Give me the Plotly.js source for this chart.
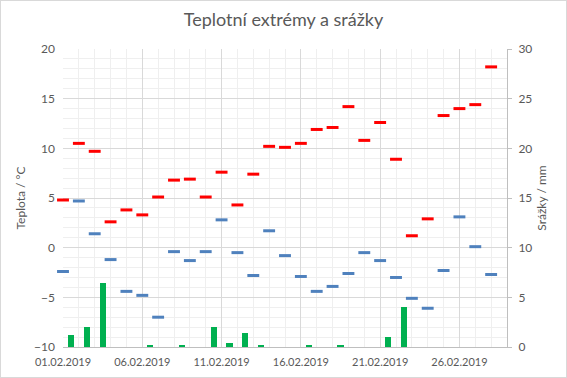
<!DOCTYPE html>
<html>
<head>
<meta charset="utf-8">
<script src="https://cdn.plot.ly/plotly-3.0.1.min.js"></script>
<style>
  html, body { margin: 0; padding: 0; background: #fff; }
  #wrap { position: relative; width: 567px; height: 378px; }
  #chart { width: 567px; height: 378px; }
  #frame { position: absolute; left: 0; top: 0; width: 567px; height: 378px; box-sizing: border-box; border: 1px solid #d9d9d9; pointer-events: none; }
</style>
</head>
<body>
<div id="wrap"><div id="chart"></div><div id="frame"></div></div>
<script>
const dates = ['2019-02-01','2019-02-02','2019-02-03','2019-02-04','2019-02-05','2019-02-06','2019-02-07',
  '2019-02-08','2019-02-09','2019-02-10','2019-02-11','2019-02-12','2019-02-13','2019-02-14',
  '2019-02-15','2019-02-16','2019-02-17','2019-02-18','2019-02-19','2019-02-20','2019-02-21',
  '2019-02-22','2019-02-23','2019-02-24','2019-02-25','2019-02-26','2019-02-27','2019-02-28'];
const tMax = [4.8,10.5,9.7,2.6,3.8,3.3,5.1,6.8,6.9,5.1,7.6,4.3,7.4,10.2,10.1,10.5,11.9,12.1,14.2,10.8,12.6,8.9,1.2,2.9,13.3,14.0,14.4,18.2];
const tMin = [-2.4,4.7,1.4,-1.2,-4.4,-4.8,-7.0,-0.4,-1.3,-0.4,2.8,-0.5,-2.8,1.7,-0.8,-2.9,-4.4,-3.9,-2.6,-0.5,-1.3,-3.0,-5.1,-6.1,-2.3,3.1,0.1,-2.7];
const precip = [1.2,2.0,6.4,0,0,0.2,0,0.2,0,2.0,0.4,1.4,0.2,0,0,0.2,0,0.2,0,0,1.0,4.0,0,0,0,0,0,0];

const titleText = 'Teplotní extrémy a srážky';
const yTitle = 'Teplota / °C';
const y2Title = 'Srážky / mm';

const DAY = 86400000;
const txt = '#595959';
const font = 'Lato, "Open Sans", sans-serif';

const traces = [
  {
    type: 'bar', x: dates, y: precip, yaxis: 'y2',
    xperiod: DAY, xperiodalignment: 'middle',
    width: 0.38 * DAY,
    marker: { color: '#00b050' },
    hoverinfo: 'x+y'
  },
  {
    type: 'scatter', mode: 'markers', x: dates, y: tMax, cliponaxis: false,
    marker: { symbol: 'line-ew', size: 8.5, color: '#ff0000', line: { color: '#ff0000', width: 3 } }
  },
  {
    type: 'scatter', mode: 'markers', x: dates, y: tMin, cliponaxis: false,
    marker: { symbol: 'line-ew', size: 8.5, color: '#4f81bd', line: { color: '#4f81bd', width: 3 } }
  }
];

const layout = {
  width: 567, height: 378,
  margin: { l: 63, r: 60, t: 49, b: 31, pad: 0 },
  paper_bgcolor: '#ffffff', plot_bgcolor: '#ffffff',
  showlegend: false,
  font: { family: font, color: txt, size: 11 },
  title: { text: titleText, font: { family: font, size: 18, color: txt }, x: 0.5, xanchor: 'center', y: 1 - 20/378, yref: 'container', yanchor: 'middle' },
  xaxis: {
    type: 'date',
    range: ['2019-02-01', '2019-03-01'],
    tick0: '2019-02-01', dtick: 5 * DAY, tickformat: '%d.%m.%Y',
    showgrid: true, gridcolor: '#d9d9d9', gridwidth: 1,
    minor: { dtick: DAY, showgrid: true, gridcolor: '#efefef', gridwidth: 1 },
    showline: true, linecolor: '#bfbfbf', linewidth: 1,
    ticks: '', zeroline: false,
    ticklabelstandoff: 5,
    tickfont: { size: 11, color: txt }
  },
  yaxis: {
    range: [-10, 20], dtick: 5, tick0: 0,
    showgrid: true, gridcolor: '#d9d9d9', gridwidth: 1,
    minor: { dtick: 1, showgrid: true, gridcolor: '#efefef', gridwidth: 1 },
    zeroline: false, showline: false, ticks: '',
    tickfont: { size: 12, color: txt },
    ticklabelstandoff: 7,
    title: { text: yTitle, font: { size: 12, color: txt }, standoff: 5 }
  },
  yaxis2: {
    range: [0, 30], dtick: 5, tick0: 0,
    overlaying: 'y', side: 'right',
    showgrid: false, zeroline: false,
    showline: true, linecolor: '#bfbfbf', linewidth: 1,
    ticks: 'outside', ticklen: 4, tickcolor: '#bfbfbf',
    tickfont: { size: 12, color: txt },
    ticklabelstandoff: 4,
    title: { text: y2Title, font: { size: 12, color: txt }, standoff: 6 }
  },
  bargap: 0
};

Plotly.newPlot('chart', traces, layout, { staticPlot: true, displayModeBar: false });
</script>
</body>
</html>
